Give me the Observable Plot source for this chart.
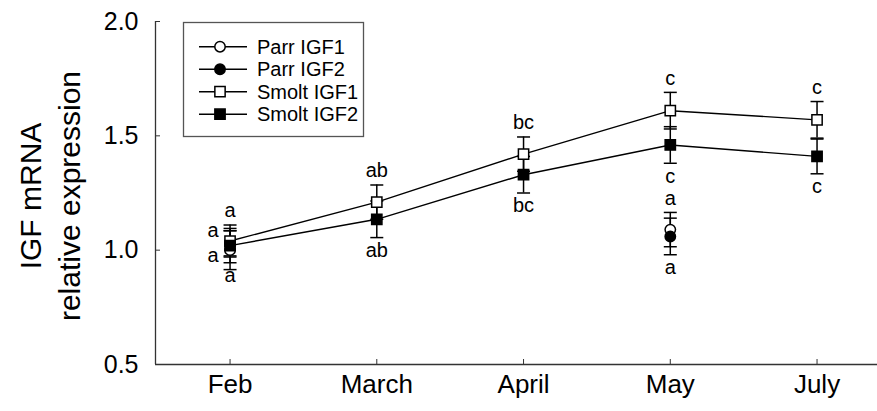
<!DOCTYPE html>
<html><head><meta charset="utf-8">
<script src="https://cdn.jsdelivr.net/npm/d3@7"></script>
<script src="https://cdn.jsdelivr.net/npm/@observablehq/plot@0.6"></script>
<style>
body{margin:0;background:#fff;}
#chart{position:relative;width:877px;height:411px;font-family:"Liberation Sans",Arial,sans-serif;}
#legend{position:absolute;left:0;top:0;pointer-events:none;}
</style>
</head><body><div id="chart"></div>
<script>
// ---- data ----
const months = ["Feb", "March", "April", "May", "July"];
const smoltIGF1 = [1.04, 1.21, 1.42, 1.61, 1.57];
const smoltIGF1Err = [0.07, 0.075, 0.075, 0.08, 0.08];
const smoltIGF2 = [1.02, 1.135, 1.33, 1.46, 1.41];
const smoltIGF2Err = [0.075, 0.08, 0.08, 0.08, 0.076];
const parrMonths = ["Feb", "May"];
const parrIGF1 = [1.00, 1.09];
const parrIGF1Err = [0.085, 0.075];
const parrIGF2 = [1.03, 1.06];
const parrIGF2Err = [0.055, 0.08];
// significance letters
const letterSeries = ["Smolt IGF1","Smolt IGF2","Smolt IGF1","Smolt IGF2","Smolt IGF1","Smolt IGF2","Smolt IGF1","Smolt IGF2","Smolt IGF1","Smolt IGF2","Parr IGF1","Parr IGF2","Parr IGF1","Parr IGF2"];
const letterMonths = ["Feb","Feb","March","March","April","April","May","May","July","July","Feb","Feb","May","May"];
const letterSides = ["above","below","above","below","above","below","above","below","above","below","upper-left","lower-left","above","below"];
const letterTexts = ["a","a","ab","ab","bc","bc","c","c","c","c","a","a","a","a"];
const yTicks = [0.5, 1.0, 1.5, 2.0];
const yLabel = "IGF mRNA\nrelative expression";
const seriesNames = ["Parr IGF1", "Parr IGF2", "Smolt IGF1", "Smolt IGF2"];

// ---- tables ----
const mk = (name, ms, vals, errs) => ms.map((m, i) => ({series: name, x: months.indexOf(m), v: vals[i], e: errs[i]}));
const rows = [
  ...mk("Smolt IGF1", months, smoltIGF1, smoltIGF1Err),
  ...mk("Smolt IGF2", months, smoltIGF2, smoltIGF2Err),
  ...mk("Parr IGF1", parrMonths, parrIGF1, parrIGF1Err),
  ...mk("Parr IGF2", parrMonths, parrIGF2, parrIGF2Err)
];
const find = (s, m) => rows.find(r => r.series === s && r.x === months.indexOf(m));
const letters = letterTexts.map((t, i) => {
  const r = find(letterSeries[i], letterMonths[i]);
  const side = letterSides[i];
  const low = side === "below" || side === "lower-left";
  return {text: t, x: r.x, y: low ? r.v - r.e : r.v + r.e, side};
});
const style = {
  "Parr IGF1": {symbol: "circle", fill: "white"},
  "Parr IGF2": {symbol: "circle", fill: "black"},
  "Smolt IGF1": {symbol: "square", fill: "white"},
  "Smolt IGF2": {symbol: "square", fill: "black"}
};
const capSymbol = {draw(ctx, size) { const r = Math.sqrt(size / Math.PI); ctx.moveTo(-r, 0); ctx.lineTo(r, 0); }};
const caps = rows.flatMap(r => [{x: r.x, y: r.v - r.e}, {x: r.x, y: r.v + r.e}]);
const xDomain = [-0.508, 4.412];
const F = "Liberation Sans";

const marks = [
  Plot.ruleY([0.5], {stroke: "#333", strokeWidth: 1.3}),
  Plot.ruleX([xDomain[0]], {y1: 0.5, y2: 2.0, stroke: "#333", strokeWidth: 1.3}),
  Plot.axisX({ticks: [0, 1, 2, 3, 4], tickFormat: i => months[i], tickSize: -5, tickPadding: 15, fontSize: 26, stroke: "#333", fill: "black", label: null}),
  Plot.axisY({ticks: yTicks, tickFormat: d3.format(".1f"), tickSize: -5, tickPadding: 22, fontSize: 25, stroke: "#333", fill: "black", label: null}),
  Plot.text([yLabel], {frameAnchor: "left", dx: -107, dy: 3, rotate: -90, fontSize: 30, lineHeight: 1.3, fill: "black", textAnchor: "middle"}),
  Plot.line(rows.filter(r => r.series === "Smolt IGF1"), {x: "x", y: "v", stroke: "black", strokeWidth: 1.4}),
  Plot.line(rows.filter(r => r.series === "Smolt IGF2"), {x: "x", y: "v", stroke: "black", strokeWidth: 1.4}),
  Plot.ruleX(rows, {x: "x", y1: r => r.v - r.e, y2: r => r.v + r.e, stroke: "black", strokeWidth: 1.5}),
  Plot.dot(caps, {x: "x", y: "y", symbol: capSymbol, r: 6.5, fill: "none", stroke: "black", strokeWidth: 1.5}),
  ...seriesNames.map(s => Plot.dot(rows.filter(r => r.series === s), {x: "x", y: "v", symbol: style[s].symbol, r: style[s].symbol === "square" ? 5.8 : 5.2, fill: style[s].fill, stroke: "black", strokeWidth: 1.5})),
  Plot.text(letters.filter(d => d.side === "above"), {x: "x", y: "y", text: "text", dy: -14, fontSize: 20, fill: "black"}),
  Plot.text(letters.filter(d => d.side === "below"), {x: "x", y: "y", text: "text", dy: 13, fontSize: 20, fill: "black"}),
  Plot.text(letters.filter(d => d.side === "upper-left" || d.side === "lower-left"), {x: "x", y: "y", text: "text", dx: -17, fontSize: 20, fill: "black"})
];

const chart = Plot.plot({
  width: 877, height: 411,
  marginLeft: 155, marginRight: 0, marginTop: 21, marginBottom: 47,
  x: {type: "linear", domain: xDomain, axis: null, label: null},
  y: {type: "linear", domain: [0.5, 2.0], axis: null, label: null},
  style: {fontFamily: F, background: "white", color: "black", overflow: "visible"},
  marks
});
const root = document.getElementById("chart");
root.appendChild(chart);

// ---- legend (overlay) ----
const svg = d3.select(root).append("svg").attr("id", "legend").attr("width", 877).attr("height", 411);
svg.append("rect").attr("x", 183.5).attr("y", 22.5).attr("width", 180).attr("height", 114)
  .attr("fill", "white").attr("stroke", "#555").attr("stroke-width", 1.3);
const symFor = s => style[s].symbol === "square" ? d3.symbolSquare : d3.symbolCircle;
seriesNames.forEach((s, i) => {
  const y = 46.7 + i * 22.5;
  svg.append("line").attr("x1", 199).attr("x2", 247).attr("y1", y).attr("y2", y).attr("stroke", "black").attr("stroke-width", 1.5);
  const r = style[s].symbol === "square" ? 5.8 : 5.2;
  svg.append("path").attr("d", d3.symbol(symFor(s), Math.PI * r * r)()).attr("transform", `translate(220,${y})`)
    .attr("fill", style[s].fill).attr("stroke", "black").attr("stroke-width", 1.5);
  svg.append("text").attr("x", 257).attr("y", y).attr("dy", "0.35em").attr("font-size", 20).attr("font-family", F).attr("fill", "black").text(s);
});
</script>
</body></html>
